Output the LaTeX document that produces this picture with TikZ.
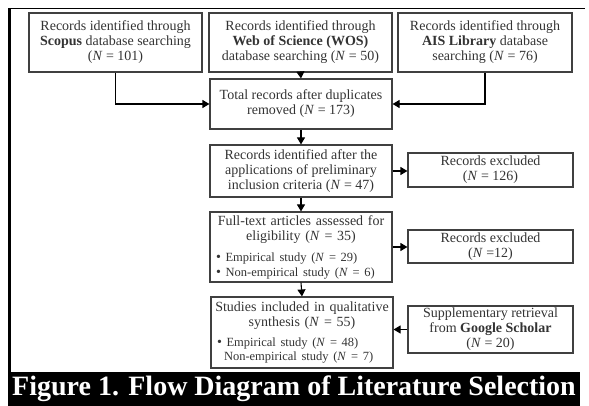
\documentclass[tikz,border=0pt]{standalone}
\usepackage{fontspec}
\setmainfont{Liberation Serif}
\usepackage{xcolor}
\usetikzlibrary{calc,arrows.meta}

\definecolor{boxline}{HTML}{404040}
\definecolor{boxtext}{HTML}{333333}
\newcommand{\NN}[1]{(\textit{N}~=~#1)}
\newcommand{\bigbullet}{{\fontsize{14}{14}\selectfont\textbullet}}

\begin{document}
\begin{tikzpicture}[x=1pt, y=-1pt,
    every node/.style={font=\fontsize{14}{15}\selectfont, text=boxtext},
    flowbox/.style={draw=boxline, line width=1.1pt, align=center, inner sep=1pt},
    flowarrow/.style={draw=black, line width=1.1pt, -{Triangle[length=7pt, width=8pt]}}]
  \useasboundingbox (0,0) rectangle (589,406);
  % frame
  \draw[line width=2.6pt] (9.5,372) -- (9.5,8.5);
  \draw[line width=1pt] (8,9) -- (585,9);
  % sources
  \node[flowbox, minimum width=173pt, minimum height=59pt] (scopus) at (115.5,42.5)
    {Records identified through\\ \textbf{Scopus} database searching\\ \NN{101}};
  \node[flowbox, minimum width=183pt, minimum height=59pt] (wos) at (300.5,42.5)
    {Records identified through\\ \textbf{Web of Science (WOS)}\\ database searching \NN{50}};
  \node[flowbox, minimum width=174pt, minimum height=59pt] (ais) at (485,42.5)
    {Records identified through\\ \textbf{AIS Library} database\\ searching \NN{76}};
  % main column
  \node[flowbox, minimum width=182pt, minimum height=50pt] (total) at (301,104)
    {Total records after duplicates\\ removed \NN{173}};
  \node[flowbox, minimum width=182pt, minimum height=52pt] (prelim) at (301,171)
    {Records identified after the\\ applications of preliminary\\ inclusion criteria \NN{47}};
  \node[flowbox, minimum width=182pt, minimum height=70pt, text width=180pt, align=left] (fulltext) at (301,247)
    {{\centering Full-text articles assessed for\\ eligibility \NN{35}\par}\vspace{6pt}
     {\fontsize{12.5}{15}\selectfont\hspace*{5pt}\bigbullet\ Empirical study \NN{29}\\
      \hspace*{5pt}\bigbullet\ Non-empirical study \NN{6}\par}};
  \node[flowbox, minimum width=182pt, minimum height=71pt, text width=180pt, align=left] (studies) at (302,332.5)
    {{\centering Studies included in qualitative\\ synthesis \NN{55}\par}\vspace{6pt}
     {\fontsize{12.5}{14}\selectfont\hspace*{5pt}\bigbullet\ Empirical study \NN{48}\\
      \hspace*{12pt}Non-empirical study \NN{7}\par}};
  % side boxes
  \node[flowbox, minimum width=165pt, minimum height=34pt] (excl1) at (490.5,170)
    {Records excluded\\ \NN{126}};
  \node[flowbox, minimum width=165pt, minimum height=33pt] (excl2) at (490.5,246.5)
    {Records excluded\\ (\textit{N}~=12)};
  \node[flowbox, minimum width=165pt, minimum height=47pt] (supp) at (490.5,329.5)
    {Supplementary retrieval\\ from \textbf{Google Scholar}\\ \NN{20}};
  % arrows
  \draw[flowarrow] (scopus.south) |- (total.west);
  \draw[flowarrow] (ais.south) |- (total.east);
  \draw[flowarrow] (wos.south) -- (total.north);
  \draw[flowarrow] (total.south) -- (prelim.north);
  \draw[flowarrow] (prelim.south) -- (fulltext.north);
  \draw[flowarrow] (fulltext.south) -- (studies.north);
  \draw[flowarrow] (prelim.east) -- (prelim.east -| excl1.west);
  \draw[flowarrow] (fulltext.east) -- (fulltext.east -| excl2.west);
  \draw[flowarrow] (supp.west) -- (supp.west -| studies.east);
  % caption
  \fill[black] (8,372) rectangle (580,406);
  \node[font=\fontsize{28}{30}\selectfont\bfseries, text=white] (caption) at (294,389)
    {Figure 1. Flow Diagram of Literature Selection};
\end{tikzpicture}
\end{document}
